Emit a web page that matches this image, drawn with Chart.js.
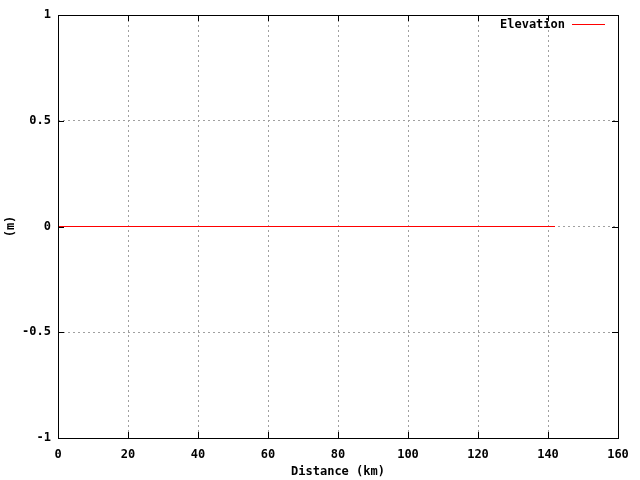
<!DOCTYPE html>
<html>
<head>
<meta charset="utf-8">
<script src="https://cdn.jsdelivr.net/npm/chart.js@4.4.0/dist/chart.umd.min.js"></script>
<style>
  html, body { margin: 0; padding: 0; background: #fff; }
  #wrap { width: 640px; height: 480px; }
</style>
</head>
<body>
<div id="wrap"><canvas id="elev" width="640" height="480"></canvas></div>
<script>
// distance along the track (km) and elevation (m)
const distances = [0, 142];
const elevations = [0, 0];

const xTicks = [0, 20, 40, 60, 80, 100, 120, 140, 160];
const yTicks = [-1, -0.5, 0, 0.5, 1];

const FONT = { family: '"DejaVu Sans Mono", "Liberation Mono", monospace', size: 12, weight: 'bold' };

// gnuplot-ish frame: full box, inward ticks, legend inside top right
const framePlugin = {
  id: 'frame',
  afterDraw(chart) {
    const { ctx, chartArea: a, scales } = chart;
    ctx.save();
    ctx.strokeStyle = '#000';
    ctx.lineWidth = 1;
    ctx.strokeRect(a.left + 0.5, a.top + 0.5, a.right - a.left, a.bottom - a.top);

    ctx.beginPath();
    const len = 6;
    xTicks.forEach(v => {
      const px = Math.round(scales.x.getPixelForValue(v)) + 0.5;
      ctx.moveTo(px, a.bottom); ctx.lineTo(px, a.bottom - len);
      ctx.moveTo(px, a.top); ctx.lineTo(px, a.top + len);
    });
    yTicks.forEach(v => {
      const py = Math.round(scales.y.getPixelForValue(v)) + 0.5;
      ctx.moveTo(a.left, py); ctx.lineTo(a.left + len, py);
      ctx.moveTo(a.right, py); ctx.lineTo(a.right - len, py);
    });
    ctx.stroke();

    // legend
    ctx.font = `bold ${FONT.size}px ${FONT.family}`;
    ctx.fillStyle = '#000';
    ctx.textAlign = 'right';
    ctx.textBaseline = 'middle';
    ctx.fillText(chart.data.datasets[0].label, a.right - 53, a.top + 10);
    ctx.strokeStyle = '#ff0000';
    ctx.beginPath();
    ctx.moveTo(a.right - 46, a.top + 9.5);
    ctx.lineTo(a.right - 13, a.top + 9.5);
    ctx.stroke();
    ctx.restore();
  }
};

new Chart(document.getElementById('elev'), {
  type: 'line',
  data: {
    datasets: [{
      label: 'Elevation',
      data: distances.map((d, i) => ({ x: d, y: elevations[i] })),
      borderColor: '#ff0000',
      borderWidth: 1,
      pointRadius: 0,
      tension: 0,
      fill: false
    }]
  },
  options: {
    responsive: false,
    animation: false,
    devicePixelRatio: 1,
    layout: { padding: { top: 15, right: 22, left: 0, bottom: 0 } },
    plugins: { legend: { display: false }, tooltip: { enabled: false } },
    scales: {
      x: {
        type: 'linear',
        min: 0, max: 160,
        afterBuildTicks: s => { s.ticks = xTicks.map(v => ({ value: v })); },
        afterFit: s => { s.height = 42; },
        ticks: { color: '#000', font: FONT, padding: 10, maxRotation: 0 },
        grid: {
          color: c => (c.tick && (c.tick.value === 0 || c.tick.value === 160)) ? 'rgba(0,0,0,0)' : '#a0a0a0',
          drawTicks: false,
          lineWidth: 1
        },
        border: { display: false, dash: [2, 3] },
        title: { display: true, text: 'Distance (km)', color: '#000', font: FONT, padding: { top: 0, bottom: 1 } }
      },
      y: {
        type: 'linear',
        min: -1, max: 1,
        afterBuildTicks: s => { s.ticks = yTicks.map(v => ({ value: v })); },
        afterFit: s => { s.width = 58; },
        ticks: { color: '#000', font: FONT, padding: 7, callback: v => String(v) },
        grid: {
          color: c => (c.tick && (c.tick.value === -1 || c.tick.value === 1)) ? 'rgba(0,0,0,0)' : '#a0a0a0',
          drawTicks: false,
          lineWidth: 1
        },
        border: { display: false, dash: [2, 3] },
        title: { display: true, text: '(m)', color: '#000', font: FONT, padding: { top: 4, bottom: 0 } }
      }
    }
  },
  plugins: [framePlugin]
});
</script>
</body>
</html>
